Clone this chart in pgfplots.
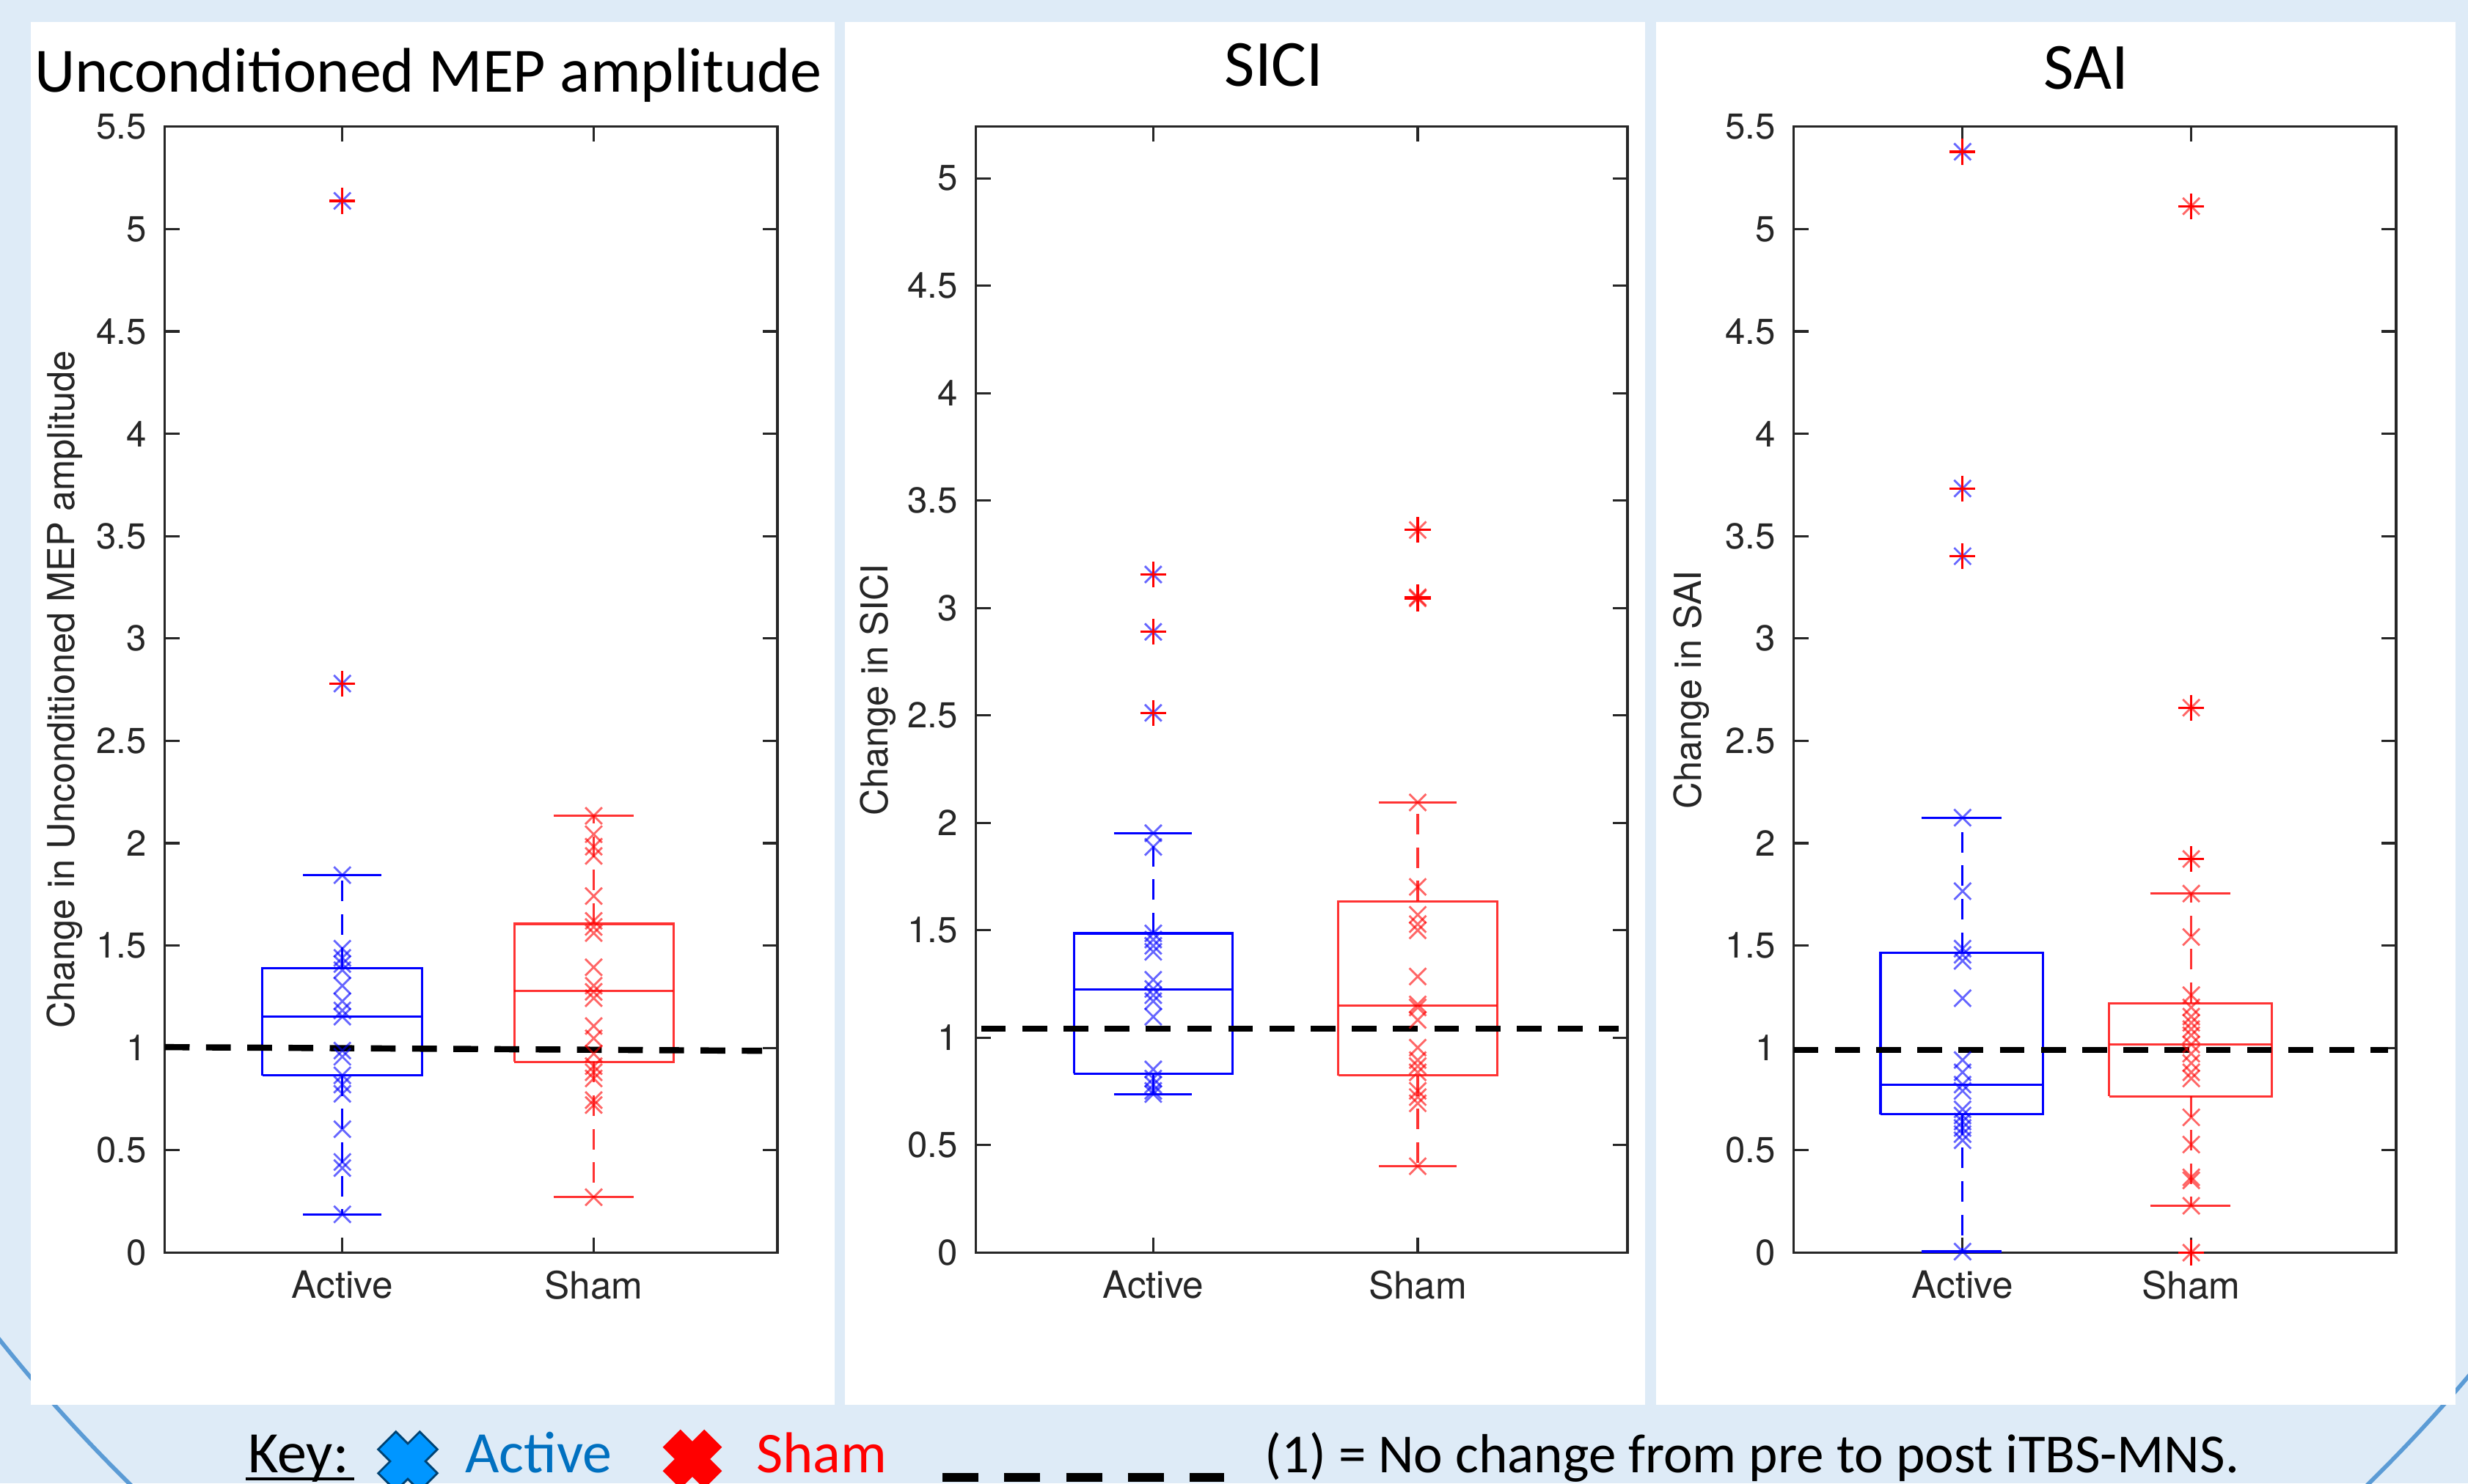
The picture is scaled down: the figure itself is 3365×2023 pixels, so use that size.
\documentclass[border=0pt]{standalone}
\usepackage{fontspec}
\setmainfont{TeX Gyre Heros}
\newfontfamily\calibri{Carlito}
\usepackage{pgfplots}
\pgfplotsset{compat=1.18}
\definecolor{bgblue}{RGB}{222,235,247}
\definecolor{arcblue}{RGB}{91,155,213}
\definecolor{axgray}{RGB}{38,38,38}
\definecolor{keyblue}{RGB}{0,112,192}
\definecolor{iconblue}{RGB}{0,150,255}

\pgfplotsset{
  panel/.style={
    scale only axis, height=7.685cm, ymin=0,
    xtick={1,2}, xticklabels={Active,Sham},
    ytick distance=0.5,
    tick align=inside, xtick pos=both, ytick pos=both,
    xticklabel pos=lower, yticklabel pos=left,
    major tick length=0.1cm,
    axis line style={draw=axgray, line width=0.45pt},
    tick style={draw=axgray, line width=0.45pt},
    tick label style={font=\fontsize{7}{8}\selectfont, text=axgray},
    xticklabel style={font=\fontsize{7.3}{8}\selectfont},
    /pgf/number format/assume math mode=true,
    ylabel style={font=\fontsize{7.2}{8}\selectfont, text=axgray, anchor=center},
    clip=false,
  },
  actx/.style={blue, mark=x, only marks, mark size=2.3pt, line width=0.4pt, opacity=0.6},
  shamx/.style={red, mark=x, only marks, mark size=2.3pt, line width=0.4pt, opacity=0.6},
  outl/.style={red, mark=+, only marks, mark size=2.5pt, line width=0.45pt},
  boxa/.style={blue, line width=0.45pt, mark=none},
  boxs/.style={red, opacity=0.8, line width=0.45pt, mark=none},
  wha/.style={boxa, dash pattern=on 4pt off 2.5pt},
  whs/.style={boxs, dash pattern=on 4pt off 2.5pt},
  refl/.style={black, line width=1.2pt, dash pattern=on 4.8pt off 3.2pt, mark=none},
}

\begin{document}
\begin{tikzpicture}
% frame, in pixels of the reference
\begin{scope}[x=0.005cm, y=-0.005cm]
  \useasboundingbox (0,0) rectangle (3365,2023);
  \fill[bgblue] (0,0) rectangle (3365,2023);
  \begin{scope}
    \clip (0,0) rectangle (3365,2023);
    \draw[arcblue, line width=0.8pt] (1703,470) circle[radius=10.9cm];
  \end{scope}
  \fill[white] (42,30) rectangle (1138,1916);
  \fill[white] (1152,30) rectangle (2243,1916);
  \fill[white] (2258,30) rectangle (3348,1916);
  \node[anchor=base, font=\calibri\fontsize{12.25}{15}\selectfont] at (584,125) {Unconditioned MEP amplitude};
  \node[anchor=base, font=\calibri\fontsize{12.8}{15}\selectfont] at (1737,117) {SICI};
  \node[anchor=base, font=\calibri\fontsize{12.8}{15}\selectfont] at (2844,121) {SAI};
  % key
  \node[anchor=base west, inner sep=0pt, font=\calibri\fontsize{11.4}{13}\selectfont] at (337,2008) {Key:};
  \draw[black, line width=0.7pt] (335,2017) -- (483,2017);
  \begin{scope}[shift={(556,1993)}, rotate=45]
    \filldraw[fill=iconblue, draw=keyblue!60!black, line width=0.4pt]
      (17,40) -- (17,17) -- (40,17) -- (40,-17) -- (17,-17) -- (17,-40) -- (-17,-40) -- (-17,-17)
      -- (-40,-17) -- (-40,17) -- (-17,17) -- (-17,40) -- cycle;
  \end{scope}
  \node[anchor=base west, inner sep=0pt, text=keyblue, font=\calibri\fontsize{11.4}{13}\selectfont] at (633,2008) {Active};
  \begin{scope}[shift={(944,1990)}, rotate=45]
    \fill[red]
      (17,40) -- (17,17) -- (40,17) -- (40,-17) -- (17,-17) -- (17,-40) -- (-17,-40) -- (-17,-17)
      -- (-40,-17) -- (-40,17) -- (-17,17) -- (-17,40) -- cycle;
  \end{scope}
  \node[anchor=base west, inner sep=0pt, text=red, font=\calibri\fontsize{11.2}{13}\selectfont] at (1030,2008) {Sham};
  \draw[black, line width=1.7pt, dash pattern=on 7pt off 5pt] (1285,2015) -- (1669,2015);
  \node[anchor=base west, inner sep=0pt, font=\calibri\fontsize{10.7}{13}\selectfont] at (1723,2008) {(1) = No change from pre to post iTBS-MNS.};
\end{scope}

% Unconditioned MEP amplitude
\begin{axis}[panel, at={(1.125cm,-8.55cm)}, anchor=south west, width=4.18cm,
    xmin=0.294, xmax=2.731, ymax=5.5,
    ylabel={Change in Unconditioned MEP amplitude},
    ylabel style={at={(axis description cs:-0.164,0.5)}}]
  \addplot[boxa] coordinates {(0.682,0.866) (1.318,0.866) (1.318,1.39) (0.682,1.39) (0.682,0.866)};
  \addplot[boxa] coordinates {(0.682,1.152) (1.318,1.152)};
  \addplot[wha] coordinates {(1,1.39) (1,1.844)};
  \addplot[wha] coordinates {(1,0.866) (1,0.186)};
  \addplot[boxa] coordinates {(0.844,1.844) (1.156,1.844)};
  \addplot[boxa] coordinates {(0.844,0.186) (1.156,0.186)};
  \addplot[boxs] coordinates {(1.684,0.932) (2.317,0.932) (2.317,1.606) (1.684,1.606) (1.684,0.932)};
  \addplot[boxs] coordinates {(1.684,1.28) (2.317,1.28)};
  \addplot[whs] coordinates {(2,1.606) (2,2.134)};
  \addplot[whs] coordinates {(2,0.932) (2,0.271)};
  \addplot[boxs] coordinates {(1.84,2.134) (2.16,2.134)};
  \addplot[boxs] coordinates {(1.84,0.271) (2.16,0.271)};
  \addplot[actx] coordinates {(1,1.844)(1,1.485)(1,1.44)(1,1.41)(1,1.38)(1,1.304)(1,1.228)(1,1.183)(1,1.153)(1,0.987)(1,0.957)(1,0.866)(1,0.821)(1,0.776)(1,0.603)(1,0.443)(1,0.413)(1,0.187)(1,2.78)(1,5.138)};
  \addplot[shamx] coordinates {(2,2.134)(2,2.044)(2,1.983)(2,1.938)(2,1.742)(2,1.621)(2,1.591)(2,1.561)(2,1.394)(2,1.304)(2,1.274)(2,1.243)(2,1.107)(2,1.047)(2,0.972)(2,0.911)(2,0.881)(2,0.851)(2,0.745)(2,0.721)(2,0.271)};
  \addplot[outl] coordinates {(1,5.138)(1,2.78)};
  \addplot[refl] coordinates {(0.294,1.004) (2.67,0.986)};
\end{axis}

% SICI
\begin{axis}[panel, at={(6.66cm,-8.55cm)}, anchor=south west, width=4.445cm,
    xmin=0.33, xmax=2.793, ymax=5.24,
    ylabel={Change in SICI},
    ylabel style={at={(axis description cs:-0.151,0.5)}}]
  \addplot[boxa] coordinates {(0.7,0.833) (1.3,0.833) (1.3,1.486) (0.7,1.486) (0.7,0.833)};
  \addplot[boxa] coordinates {(0.7,1.224) (1.3,1.224)};
  \addplot[wha] coordinates {(1,1.486) (1,1.952)};
  \addplot[wha] coordinates {(1,0.833) (1,0.738)};
  \addplot[boxa] coordinates {(0.853,1.952) (1.147,1.952)};
  \addplot[boxa] coordinates {(0.853,0.738) (1.147,0.738)};
  \addplot[boxs] coordinates {(1.7,0.825) (2.3,0.825) (2.3,1.635) (1.7,1.635) (1.7,0.825)};
  \addplot[boxs] coordinates {(1.7,1.149) (2.3,1.149)};
  \addplot[whs] coordinates {(2,1.635) (2,2.095)};
  \addplot[whs] coordinates {(2,0.825) (2,0.402)};
  \addplot[boxs] coordinates {(1.853,2.095) (2.147,2.095)};
  \addplot[boxs] coordinates {(1.853,0.402) (2.147,0.402)};
  \addplot[actx] coordinates {(1,1.952)(1,1.888)(1,1.486)(1,1.457)(1,1.428)(1,1.4)(1,1.27)(1,1.227)(1,1.198)(1,1.17)(1,1.098)(1,0.853)(1,0.81)(1,0.781)(1,0.753)(1,0.738)(1,3.156)(1,2.889)(1,2.512)};
  \addplot[shamx] coordinates {(2,2.095)(2,1.702)(2,1.572)(2,1.529)(2,1.5)(2,1.285)(2,1.155)(2,1.141)(2,1.083)(2,0.954)(2,0.896)(2,0.868)(2,0.839)(2,0.753)(2,0.724)(2,0.695)(2,0.402)(2,3.363)(2,3.05)(2,3.045)};
  \addplot[outl] coordinates {(1,3.156)(1,2.889)(1,2.512)(2,3.363)(2,3.05)(2,3.045)};
  \addplot[refl] coordinates {(0.349,1.043) (2.76,1.043)};
\end{axis}

% SAI
\begin{axis}[panel, at={(12.24cm,-8.55cm)}, anchor=south west, width=4.11cm,
    xmin=0.262, xmax=2.896, ymax=5.5,
    ylabel={Change in SAI},
    ylabel style={at={(axis description cs:-0.170,0.5)}}]
  \addplot[boxa] coordinates {(0.641,0.676) (1.351,0.676) (1.351,1.464) (0.641,1.464) (0.641,0.676)};
  \addplot[boxa] coordinates {(0.641,0.821) (1.351,0.821)};
  \addplot[wha] coordinates {(1,1.464) (1,2.125)};
  \addplot[wha] coordinates {(1,0.676) (1,0.005)};
  \addplot[boxa] coordinates {(0.82,2.125) (1.172,2.125)};
  \addplot[boxa] coordinates {(0.82,0.005) (1.172,0.005)};
  \addplot[boxs] coordinates {(1.641,0.763) (2.351,0.763) (2.351,1.219) (1.641,1.219) (1.641,0.763)};
  \addplot[boxs] coordinates {(1.641,1.017) (2.351,1.017)};
  \addplot[whs] coordinates {(2,1.219) (2,1.754)};
  \addplot[whs] coordinates {(2,0.763) (2,0.229)};
  \addplot[boxs] coordinates {(1.82,1.754) (2.172,1.754)};
  \addplot[boxs] coordinates {(1.82,0.229) (2.172,0.229)};
  \addplot[actx] coordinates {(1,2.125)(1,1.766)(1,1.485)(1,1.455)(1,1.425)(1,1.243)(1,0.941)(1,0.881)(1,0.821)(1,0.79)(1,0.7)(1,0.67)(1,0.64)(1,0.609)(1,0.579)(1,0.549)(1,0.005)(1,5.378)(1,3.733)(1,3.402)};
  \addplot[shamx] coordinates {(2,1.754)(2,1.542)(2,1.258)(2,1.198)(2,1.153)(2,1.123)(2,1.092)(2,1.062)(2,1.017)(2,0.972)(2,0.926)(2,0.881)(2,0.851)(2,0.661)(2,0.528)(2,0.368)(2,0.353)(2,0.229)(2,5.112)(2,2.662)(2,1.923)(2,0)};
  \addplot[outl] coordinates {(1,5.378)(1,3.733)(1,3.402)(2,5.112)(2,2.662)(2,1.923)(2,0)};
  \addplot[refl] coordinates {(0.262,0.99) (2.86,0.99)};
\end{axis}
\end{tikzpicture}
\end{document}
